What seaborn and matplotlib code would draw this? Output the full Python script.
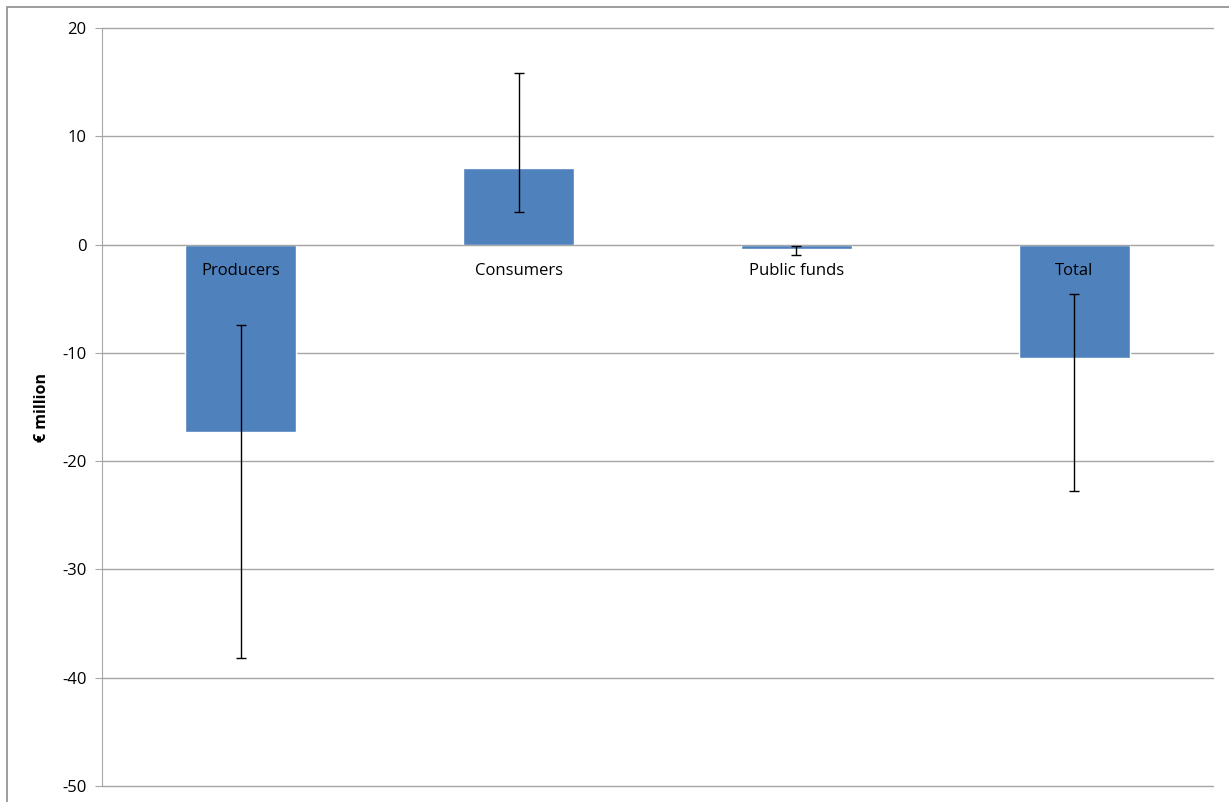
import matplotlib
matplotlib.use('Agg')
import matplotlib.pyplot as plt
import seaborn as sns
import numpy as np
from matplotlib.patches import Rectangle

# Dados
categorias = ['Producers', 'Consumers', 'Public funds', 'Total']
valores = [-17.3, 7.1, -0.4, -10.5]
erro_min = [-38.2, 3.0, -1.0, -22.8]
erro_max = [-7.4, 15.8, -0.15, -4.6]
y_ticks = [20, 10, 0, -10, -20, -30, -40, -50]

sns.set_style('white')
plt.rcParams['font.family'] = ['Open Sans', 'DejaVu Sans']

fig = plt.figure(figsize=(12.29, 8.02), dpi=100)
ax = fig.add_axes([102 / 1229, 1 - 786 / 802, (1213 - 102) / 1229, (786 - 28) / 802])

sns.barplot(x=categorias, y=valores, color='#4F81BD', saturation=1, width=0.4, ax=ax, zorder=2)

# barras de erro assimétricas
v = np.array(valores)
yerr = [v - np.array(erro_min), np.array(erro_max) - v]
ax.errorbar(range(len(categorias)), valores, yerr=yerr, fmt='none', ecolor='black',
            elinewidth=1, capsize=3.5, capthick=1, zorder=3)

ax.set_ylim(-50, 20)
ax.set_xlim(-0.5, 3.5)
ax.set_yticks(y_ticks)
ax.set_yticklabels([str(t) for t in y_ticks], fontsize=12, color='black')
ax.yaxis.grid(True, color='#a6a6a6', linewidth=1)
for gl in ax.get_ygridlines():
    gl.set_clip_on(False)
ax.set_axisbelow(True)

# eixo x cruza em zero, rótulos logo abaixo (por cima das barras)
for s in ['top', 'right']:
    ax.spines[s].set_visible(False)
ax.spines['bottom'].set_position(('data', 0))
ax.spines['bottom'].set_color('#a6a6a6')
ax.spines['left'].set_color('#a6a6a6')
ax.set_xticks(range(len(categorias)))
ax.set_xticklabels([])
ax.tick_params(axis='x', length=0)
ax.tick_params(axis='y', length=5, color='#a6a6a6', pad=6, direction='out', left=True)
for i, cat in enumerate(categorias):
    ax.annotate(cat, xy=(i, 0), xytext=(0, -13), textcoords='offset points',
                ha='center', va='top', fontsize=12, color='black', zorder=5)

ax.set_ylabel('€ million', fontsize=11.5, fontweight='bold', color='black', labelpad=9)
ax.set_xlabel('')

# moldura do gráfico
fig.patches.append(Rectangle((7 / 1229, -0.05), 1.2, 1 - 7 / 802 + 0.05, transform=fig.transFigure,
                             fill=False, edgecolor='#8c8c8c', linewidth=1.2))

fig.savefig('out.png', dpi=100)
